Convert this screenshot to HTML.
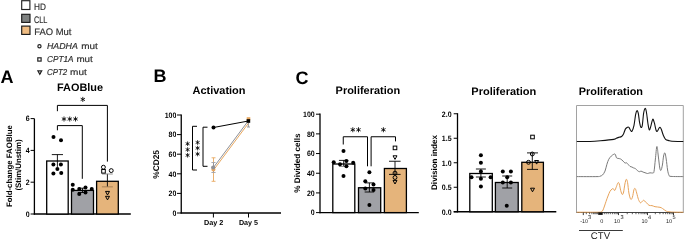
<!DOCTYPE html>
<html><head><meta charset="utf-8"><style>
html,body{margin:0;padding:0;background:#fff;}
body{width:685px;height:240px;overflow:hidden;}
svg{display:block;font-family:"Liberation Sans",sans-serif;text-rendering:geometricPrecision;will-change:transform;}
</style></head><body>
<svg width="685" height="240" viewBox="0 0 685 240">
<rect width="685" height="240" fill="#fff"/>
<rect x="21.7" y="0.7" width="8.2" height="8.8" fill="#fff" stroke="#222" stroke-width="1.15"/>
<rect x="21.7" y="14.3" width="8.3" height="8.1" fill="#7E8180" stroke="#1a1a1a" stroke-width="1.15"/>
<rect x="21.7" y="26.1" width="8.3" height="8.3" fill="#EFBC82" stroke="#1a1a1a" stroke-width="1.15"/>
<text x="34.1" y="9.8" text-anchor="start" fill="#303030" style="font-size:9.5px;font-weight:normal;stroke:#303030;stroke-width:0.18px;" textLength="11.9" lengthAdjust="spacingAndGlyphs" >HD</text>
<text x="34.0" y="22.6" text-anchor="start" fill="#303030" style="font-size:9.5px;font-weight:normal;stroke:#303030;stroke-width:0.18px;" textLength="13.4" lengthAdjust="spacingAndGlyphs" >CLL</text>
<text x="34.25" y="34.6" text-anchor="start" fill="#303030" style="font-size:9.5px;font-weight:normal;stroke:#303030;stroke-width:0.18px;" textLength="37.2" lengthAdjust="spacingAndGlyphs" >FAO Mut</text>
<circle cx="39.45" cy="46.2" r="1.6" fill="none" stroke="#222" stroke-width="1.2"/>
<rect x="37.800000000000004" y="57.800000000000004" width="3.3" height="3.3" fill="none" stroke="#222" stroke-width="1.2"/>
<path d="M37.9,70.89 L41.699999999999996,70.89 L39.8,74.30999999999999 Z" fill="none" stroke="#222" stroke-width="1.2" stroke-linejoin="miter"/>
<text x="47" y="48.8" text-anchor="start" fill="#303030" style="font-size:8.6px;font-weight:normal;stroke:#303030;stroke-width:0.18px;font-style:italic;" textLength="30.8" lengthAdjust="spacingAndGlyphs" >HADHA</text>
<text x="81.2" y="48.8" text-anchor="start" fill="#303030" style="font-size:8.6px;font-weight:normal;stroke:#303030;stroke-width:0.18px;" textLength="16.6" lengthAdjust="spacingAndGlyphs" >mut</text>
<text x="47" y="62.1" text-anchor="start" fill="#303030" style="font-size:8.6px;font-weight:normal;stroke:#303030;stroke-width:0.18px;font-style:italic;" textLength="26.5" lengthAdjust="spacingAndGlyphs" >CPT1A</text>
<text x="76.4" y="62.1" text-anchor="start" fill="#303030" style="font-size:8.6px;font-weight:normal;stroke:#303030;stroke-width:0.18px;" textLength="16.4" lengthAdjust="spacingAndGlyphs" >mut</text>
<text x="47" y="75.1" text-anchor="start" fill="#303030" style="font-size:8.6px;font-weight:normal;stroke:#303030;stroke-width:0.18px;font-style:italic;" textLength="20.2" lengthAdjust="spacingAndGlyphs" >CPT2</text>
<text x="70.1" y="75.1" text-anchor="start" fill="#303030" style="font-size:8.6px;font-weight:normal;stroke:#303030;stroke-width:0.18px;" textLength="16.7" lengthAdjust="spacingAndGlyphs" >mut</text>
<text x="0.6" y="82.7" text-anchor="start" fill="#000" style="font-size:18px;font-weight:bold;" >A</text>
<text x="153.4" y="82" text-anchor="start" fill="#000" style="font-size:18px;font-weight:bold;" >B</text>
<text x="295.6" y="83.9" text-anchor="start" fill="#000" style="font-size:18px;font-weight:bold;" >C</text>
<text x="57" y="91.3" text-anchor="start" fill="#000" style="font-size:10.9px;font-weight:bold;" textLength="46" lengthAdjust="spacingAndGlyphs" >FAOBlue</text>
<text x="192.5" y="94.2" text-anchor="start" fill="#000" style="font-size:10.9px;font-weight:bold;" textLength="53" lengthAdjust="spacingAndGlyphs" >Activation</text>
<text x="335.6" y="93.8" text-anchor="start" fill="#000" style="font-size:10.9px;font-weight:bold;" textLength="64.5" lengthAdjust="spacingAndGlyphs" >Proliferation</text>
<text x="471.3" y="95" text-anchor="start" fill="#000" style="font-size:10.9px;font-weight:bold;" textLength="65" lengthAdjust="spacingAndGlyphs" >Proliferation</text>
<text x="578.8" y="95" text-anchor="start" fill="#000" style="font-size:10.9px;font-weight:bold;" textLength="64.2" lengthAdjust="spacingAndGlyphs" >Proliferation</text>
<line x1="34.4" y1="118.6" x2="34.4" y2="214.6" stroke="#000" stroke-width="1.3"/>
<line x1="33.8" y1="214" x2="130.8" y2="214" stroke="#000" stroke-width="1.3"/>
<line x1="30.6" y1="214.0" x2="34.4" y2="214.0" stroke="#000" stroke-width="1"/>
<text x="29.6" y="216.8" text-anchor="end" fill="#000" style="font-size:7.8px;font-weight:bold;" textLength="3.9" lengthAdjust="spacingAndGlyphs" >0</text>
<line x1="30.6" y1="182.2" x2="34.4" y2="182.2" stroke="#000" stroke-width="1"/>
<text x="29.6" y="185.0" text-anchor="end" fill="#000" style="font-size:7.8px;font-weight:bold;" textLength="3.9" lengthAdjust="spacingAndGlyphs" >2</text>
<line x1="30.6" y1="150.4" x2="34.4" y2="150.4" stroke="#000" stroke-width="1"/>
<text x="29.6" y="153.20000000000002" text-anchor="end" fill="#000" style="font-size:7.8px;font-weight:bold;" textLength="3.9" lengthAdjust="spacingAndGlyphs" >4</text>
<line x1="30.6" y1="118.6" x2="34.4" y2="118.6" stroke="#000" stroke-width="1"/>
<text x="29.6" y="121.39999999999999" text-anchor="end" fill="#000" style="font-size:7.8px;font-weight:bold;" textLength="3.9" lengthAdjust="spacingAndGlyphs" >6</text>
<g transform="translate(12.2,166.1) rotate(-90)">
<text x="0" y="0" text-anchor="middle" fill="#000" style="font-size:7.9px;font-weight:bold;" textLength="82" lengthAdjust="spacingAndGlyphs" >Fold-change FAOBlue</text>
</g>
<g transform="translate(21,165) rotate(-90)">
<text x="0" y="0" text-anchor="middle" fill="#000" style="font-size:7.9px;font-weight:bold;" textLength="51" lengthAdjust="spacingAndGlyphs" >(Stim/Unstim)</text>
</g>
<rect x="46.7" y="161" width="21.5" height="53" fill="#fff" stroke="#000" stroke-width="1.3"/>
<rect x="71.5" y="190.4" width="22.0" height="23.599999999999994" fill="#A0A1A6" stroke="#000" stroke-width="1.3"/>
<rect x="96.6" y="181.3" width="21.700000000000003" height="32.69999999999999" fill="#E5B47B" stroke="#000" stroke-width="1.3"/>
<line x1="57.4" y1="154.6" x2="57.4" y2="166.9" stroke="#000" stroke-width="0.9"/>
<line x1="51.8" y1="154.6" x2="63.0" y2="154.6" stroke="#000" stroke-width="0.9"/>
<line x1="51.8" y1="166.9" x2="63.0" y2="166.9" stroke="none" stroke-width="0.9"/>
<circle cx="53.5" cy="137.1" r="2.0" fill="#000"/>
<circle cx="61" cy="140.3" r="2.0" fill="#000"/>
<circle cx="53.4" cy="164.4" r="2.0" fill="#000"/>
<circle cx="60.9" cy="164.4" r="2.0" fill="#000"/>
<circle cx="57.4" cy="169" r="2.0" fill="#000"/>
<circle cx="53.4" cy="173.4" r="2.0" fill="#000"/>
<circle cx="61.25" cy="173.1" r="2.0" fill="#000"/>
<line x1="82.5" y1="188.2" x2="82.5" y2="192.5" stroke="#000" stroke-width="0.9"/>
<line x1="78.0" y1="188.2" x2="87.0" y2="188.2" stroke="#000" stroke-width="0.9"/>
<line x1="78.0" y1="192.5" x2="87.0" y2="192.5" stroke="#000" stroke-width="0.9"/>
<circle cx="72.75" cy="184.75" r="2.0" fill="#000"/>
<circle cx="72.75" cy="189.75" r="2.0" fill="#000"/>
<circle cx="79.25" cy="189.1" r="2.0" fill="#000"/>
<circle cx="85.5" cy="187.6" r="2.0" fill="#000"/>
<circle cx="91.75" cy="189.1" r="2.0" fill="#000"/>
<circle cx="79.25" cy="194.1" r="2.0" fill="#000"/>
<circle cx="85.5" cy="192.6" r="2.0" fill="#000"/>
<line x1="107.4" y1="173.9" x2="107.4" y2="186.85" stroke="#000" stroke-width="0.9"/>
<line x1="102" y1="174.0" x2="112.8" y2="174.0" stroke="#888" stroke-width="0.9"/>
<line x1="101.9" y1="186.85" x2="112.85" y2="186.85" stroke="#A07C50" stroke-width="0.9"/>
<circle cx="103.4" cy="167.2" r="1.95" fill="none" stroke="#000" stroke-width="1.0"/>
<rect x="101.7" y="169.5" width="3.6" height="3.6" fill="none" stroke="#000" stroke-width="1.0"/>
<circle cx="111.25" cy="170.6" r="1.95" fill="none" stroke="#000" stroke-width="1.0"/>
<path d="M105.5,191.39999999999998 L109.5,191.39999999999998 L107.5,195.0 Z" fill="none" stroke="#000" stroke-width="1.0" stroke-linejoin="miter"/>
<path d="M105.5,196.29999999999998 L109.5,196.29999999999998 L107.5,199.9 Z" fill="none" stroke="#000" stroke-width="1.0" stroke-linejoin="miter"/>
<path d="M57.4,111.2 V105.4 H107.4 V161.6" stroke="#000" stroke-width="1.0" fill="none" />
<path d="M57.4,130.3 V125.6 H82.3 V178.8" stroke="#000" stroke-width="1.0" fill="none" />
<path d="M82.80,96.90L82.80,101.90M80.63,98.15L84.97,100.65M80.63,100.65L84.97,98.15" stroke="#000" stroke-width="0.85" fill="none"/>
<path d="M64.00,116.50L64.00,121.50M61.83,117.75L66.17,120.25M61.83,120.25L66.17,117.75" stroke="#000" stroke-width="0.85" fill="none"/>
<path d="M69.75,116.50L69.75,121.50M67.58,117.75L71.92,120.25M67.58,120.25L71.92,117.75" stroke="#000" stroke-width="0.85" fill="none"/>
<path d="M75.50,116.50L75.50,121.50M73.33,117.75L77.67,120.25M73.33,120.25L77.67,117.75" stroke="#000" stroke-width="0.85" fill="none"/>
<line x1="181.25" y1="114.5" x2="181.25" y2="213.6" stroke="#000" stroke-width="1.3"/>
<line x1="180.6" y1="213" x2="281" y2="213" stroke="#000" stroke-width="1.3"/>
<line x1="177" y1="213.0" x2="181.25" y2="213.0" stroke="#000" stroke-width="1"/>
<text x="176.4" y="215.8" text-anchor="end" fill="#000" style="font-size:7.8px;font-weight:bold;" textLength="3.9" lengthAdjust="spacingAndGlyphs" >0</text>
<line x1="177" y1="193.4" x2="181.25" y2="193.4" stroke="#000" stroke-width="1"/>
<text x="176.4" y="196.20000000000002" text-anchor="end" fill="#000" style="font-size:7.8px;font-weight:bold;" textLength="7.8" lengthAdjust="spacingAndGlyphs" >20</text>
<line x1="177" y1="173.8" x2="181.25" y2="173.8" stroke="#000" stroke-width="1"/>
<text x="176.4" y="176.60000000000002" text-anchor="end" fill="#000" style="font-size:7.8px;font-weight:bold;" textLength="7.8" lengthAdjust="spacingAndGlyphs" >40</text>
<line x1="177" y1="154.2" x2="181.25" y2="154.2" stroke="#000" stroke-width="1"/>
<text x="176.4" y="157.0" text-anchor="end" fill="#000" style="font-size:7.8px;font-weight:bold;" textLength="7.8" lengthAdjust="spacingAndGlyphs" >60</text>
<line x1="177" y1="134.6" x2="181.25" y2="134.6" stroke="#000" stroke-width="1"/>
<text x="176.4" y="137.4" text-anchor="end" fill="#000" style="font-size:7.8px;font-weight:bold;" textLength="7.8" lengthAdjust="spacingAndGlyphs" >80</text>
<line x1="177" y1="115.0" x2="181.25" y2="115.0" stroke="#000" stroke-width="1"/>
<text x="176.4" y="117.8" text-anchor="end" fill="#000" style="font-size:7.8px;font-weight:bold;" textLength="11.7" lengthAdjust="spacingAndGlyphs" >100</text>
<line x1="213.4" y1="213" x2="213.4" y2="217.5" stroke="#000" stroke-width="1"/>
<line x1="248.5" y1="213" x2="248.5" y2="217.5" stroke="#000" stroke-width="1"/>
<text x="213.7" y="225.3" text-anchor="middle" fill="#000" style="font-size:7.3px;font-weight:bold;" textLength="19.4" lengthAdjust="spacingAndGlyphs" >Day 2</text>
<text x="248.5" y="225.3" text-anchor="middle" fill="#000" style="font-size:7.3px;font-weight:bold;" textLength="19.1" lengthAdjust="spacingAndGlyphs" >Day 5</text>
<g transform="translate(159.3,164.4) rotate(-90)">
<text x="0" y="0" text-anchor="middle" fill="#000" style="font-size:8.3px;font-weight:bold;" textLength="28.7" lengthAdjust="spacingAndGlyphs" >%CD25</text>
</g>
<path d="M197,126.3 H192.5 V170 H197" stroke="#000" stroke-width="1.0" fill="none" />
<path d="M207.5,127.2 H203 V166.3 H207.5" stroke="#000" stroke-width="1.0" fill="none" />
<path d="M187.60,141.45L187.60,146.05M185.61,142.60L189.59,144.90M185.61,144.90L189.59,142.60" stroke="#000" stroke-width="0.8" fill="none"/>
<path d="M187.60,147.30L187.60,151.90M185.61,148.45L189.59,150.75M185.61,150.75L189.59,148.45" stroke="#000" stroke-width="0.8" fill="none"/>
<path d="M187.60,152.95L187.60,157.55M185.61,154.10L189.59,156.40M185.61,156.40L189.59,154.10" stroke="#000" stroke-width="0.8" fill="none"/>
<path d="M197.60,140.20L197.60,144.80M195.61,141.35L199.59,143.65M195.61,143.65L199.59,141.35" stroke="#000" stroke-width="0.8" fill="none"/>
<path d="M197.60,145.80L197.60,150.40M195.61,146.95L199.59,149.25M195.61,149.25L199.59,146.95" stroke="#000" stroke-width="0.8" fill="none"/>
<path d="M197.60,151.70L197.60,156.30M195.61,152.85L199.59,155.15M195.61,155.15L199.59,152.85" stroke="#000" stroke-width="0.8" fill="none"/>
<line x1="213.5" y1="157.8" x2="213.5" y2="181.3" stroke="#E8A860" stroke-width="0.9"/>
<line x1="211.6" y1="157.8" x2="215.5" y2="157.8" stroke="#E8A860" stroke-width="0.9"/>
<line x1="211.6" y1="181.3" x2="215.5" y2="181.3" stroke="#E8A860" stroke-width="0.9"/>
<line x1="214.6" y1="168.6" x2="249.2" y2="122.2" stroke="#E8A860" stroke-width="1.0"/>
<line x1="213.5" y1="162.5" x2="213.5" y2="172.5" stroke="#8E9097" stroke-width="0.9"/>
<line x1="211.4" y1="162.5" x2="215.6" y2="162.5" stroke="#A0A2A8" stroke-width="0.9"/>
<line x1="211.4" y1="172.5" x2="215.6" y2="172.5" stroke="#A0A2A8" stroke-width="0.9"/>
<line x1="213.4" y1="167.6" x2="248.0" y2="121.2" stroke="#8E9097" stroke-width="1.0"/>
<line x1="248.4" y1="121" x2="248.4" y2="127" stroke="#8E9097" stroke-width="0.9"/>
<line x1="247" y1="127" x2="250" y2="127" stroke="#8E9097" stroke-width="0.9"/>
<circle cx="213.4" cy="169.6" r="2.0" fill="#E8A860"/>
<circle cx="213.2" cy="167.5" r="2.1" fill="#8E9097"/>
<rect x="246.7" y="117.2" width="3.6" height="3" fill="#E8A860"/>
<line x1="213.5" y1="127.5" x2="248.4" y2="121" stroke="#000" stroke-width="1.0"/>
<circle cx="213.5" cy="127.5" r="2.0" fill="#000"/>
<rect x="246.6" y="119.2" width="3.6" height="3.6" fill="#000"/>
<line x1="320" y1="113.6" x2="320" y2="213.2" stroke="#000" stroke-width="1.3"/>
<line x1="319.4" y1="212.6" x2="418.8" y2="212.6" stroke="#000" stroke-width="1.3"/>
<line x1="316" y1="212.6" x2="320" y2="212.6" stroke="#000" stroke-width="1"/>
<text x="314.7" y="215.4" text-anchor="end" fill="#000" style="font-size:7.8px;font-weight:bold;" textLength="3.9" lengthAdjust="spacingAndGlyphs" >0</text>
<line x1="316" y1="192.92" x2="320" y2="192.92" stroke="#000" stroke-width="1"/>
<text x="314.7" y="195.72" text-anchor="end" fill="#000" style="font-size:7.8px;font-weight:bold;" textLength="7.8" lengthAdjust="spacingAndGlyphs" >20</text>
<line x1="316" y1="173.24" x2="320" y2="173.24" stroke="#000" stroke-width="1"/>
<text x="314.7" y="176.04000000000002" text-anchor="end" fill="#000" style="font-size:7.8px;font-weight:bold;" textLength="7.8" lengthAdjust="spacingAndGlyphs" >40</text>
<line x1="316" y1="153.56" x2="320" y2="153.56" stroke="#000" stroke-width="1"/>
<text x="314.7" y="156.36" text-anchor="end" fill="#000" style="font-size:7.8px;font-weight:bold;" textLength="7.8" lengthAdjust="spacingAndGlyphs" >60</text>
<line x1="316" y1="133.88" x2="320" y2="133.88" stroke="#000" stroke-width="1"/>
<text x="314.7" y="136.68" text-anchor="end" fill="#000" style="font-size:7.8px;font-weight:bold;" textLength="7.8" lengthAdjust="spacingAndGlyphs" >80</text>
<line x1="316" y1="114.19999999999999" x2="320" y2="114.19999999999999" stroke="#000" stroke-width="1"/>
<text x="314.7" y="116.99999999999999" text-anchor="end" fill="#000" style="font-size:7.8px;font-weight:bold;" textLength="11.7" lengthAdjust="spacingAndGlyphs" >100</text>
<g transform="translate(299.6,163) rotate(-90)">
<text x="0" y="0" text-anchor="middle" fill="#000" style="font-size:8.1px;font-weight:bold;" textLength="59.3" lengthAdjust="spacingAndGlyphs" >% Divided cells</text>
</g>
<rect x="332.8" y="164" width="22.0" height="48.599999999999994" fill="#fff" stroke="#000" stroke-width="1.3"/>
<rect x="358.5" y="187.75" width="22.19999999999999" height="24.849999999999994" fill="#A0A1A6" stroke="#000" stroke-width="1.3"/>
<rect x="384.4" y="168.5" width="22.0" height="44.099999999999994" fill="#E5B47B" stroke="#000" stroke-width="1.3"/>
<line x1="343.7" y1="160.4" x2="343.7" y2="166.4" stroke="#000" stroke-width="0.9"/>
<line x1="338.95" y1="160.4" x2="348.45" y2="160.4" stroke="#000" stroke-width="0.9"/>
<line x1="338.95" y1="166.4" x2="348.45" y2="166.4" stroke="#777" stroke-width="0.9"/>
<circle cx="343.5" cy="150.9" r="2.0" fill="#000"/>
<circle cx="333.7" cy="162.3" r="2.0" fill="#000"/>
<circle cx="340" cy="164.3" r="2.0" fill="#000"/>
<circle cx="346.4" cy="161.0" r="2.0" fill="#000"/>
<circle cx="346.4" cy="166.2" r="2.0" fill="#000"/>
<circle cx="353.2" cy="162.8" r="2.0" fill="#000"/>
<circle cx="343.5" cy="176" r="2.0" fill="#000"/>
<line x1="369.4" y1="182.9" x2="369.4" y2="192" stroke="#000" stroke-width="0.9"/>
<line x1="364.65" y1="182.9" x2="374.15" y2="182.9" stroke="#000" stroke-width="0.9"/>
<line x1="364.65" y1="192" x2="374.15" y2="192" stroke="#000" stroke-width="0.9"/>
<circle cx="369.4" cy="172.3" r="2.0" fill="#000"/>
<circle cx="365.3" cy="181.3" r="2.0" fill="#000"/>
<circle cx="373.5" cy="184.4" r="2.0" fill="#000"/>
<circle cx="365.3" cy="188.5" r="2.0" fill="#000"/>
<circle cx="373.5" cy="190" r="2.0" fill="#000"/>
<circle cx="369.4" cy="205" r="2.0" fill="#000"/>
<line x1="395" y1="161.25" x2="395" y2="174.4" stroke="#000" stroke-width="0.9"/>
<line x1="389" y1="161.25" x2="400.6" y2="161.25" stroke="#000" stroke-width="0.9"/>
<line x1="389" y1="174.4" x2="400.6" y2="174.4" stroke="#000" stroke-width="0.9"/>
<rect x="393.2" y="146.1" width="3.6" height="3.6" fill="none" stroke="#000" stroke-width="1.0"/>
<path d="M393.0,155.79999999999998 L397.0,155.79999999999998 L395,159.4 Z" fill="none" stroke="#000" stroke-width="1.0" stroke-linejoin="miter"/>
<circle cx="395" cy="173.1" r="1.95" fill="none" stroke="#000" stroke-width="1.0"/>
<circle cx="395" cy="177.5" r="1.95" fill="none" stroke="#000" stroke-width="1.0"/>
<path d="M393.0,180.39999999999998 L397.0,180.39999999999998 L395,184.0 Z" fill="none" stroke="#000" stroke-width="1.0" stroke-linejoin="miter"/>
<path d="M343.25,144.5 V136.75 H367.5 V166.3" stroke="#000" stroke-width="1.0" fill="none" />
<path d="M371.1,166.3 V136.75 H395.5 V141.4" stroke="#000" stroke-width="1.0" fill="none" />
<path d="M352.80,127.25L352.80,132.25M350.63,128.50L354.97,131.00M350.63,131.00L354.97,128.50" stroke="#000" stroke-width="0.85" fill="none"/>
<path d="M358.50,127.25L358.50,132.25M356.33,128.50L360.67,131.00M356.33,131.00L360.67,128.50" stroke="#000" stroke-width="0.85" fill="none"/>
<path d="M383.40,127.25L383.40,132.25M381.23,128.50L385.57,131.00M381.23,131.00L385.57,128.50" stroke="#000" stroke-width="0.85" fill="none"/>
<line x1="457.5" y1="113.2" x2="457.5" y2="212.4" stroke="#000" stroke-width="1.3"/>
<line x1="453.7" y1="211.75" x2="556.3" y2="211.75" stroke="#000" stroke-width="1.3"/>
<line x1="453.7" y1="211.75" x2="457.5" y2="211.75" stroke="#000" stroke-width="1"/>
<text x="451.6" y="214.55" text-anchor="end" fill="#000" style="font-size:7.8px;font-weight:bold;" textLength="9.75" lengthAdjust="spacingAndGlyphs" >0.0</text>
<line x1="453.7" y1="187.25" x2="457.5" y2="187.25" stroke="#000" stroke-width="1"/>
<text x="451.6" y="190.05" text-anchor="end" fill="#000" style="font-size:7.8px;font-weight:bold;" textLength="9.75" lengthAdjust="spacingAndGlyphs" >0.5</text>
<line x1="453.7" y1="162.75" x2="457.5" y2="162.75" stroke="#000" stroke-width="1"/>
<text x="451.6" y="165.55" text-anchor="end" fill="#000" style="font-size:7.8px;font-weight:bold;" textLength="9.75" lengthAdjust="spacingAndGlyphs" >1.0</text>
<line x1="453.7" y1="138.25" x2="457.5" y2="138.25" stroke="#000" stroke-width="1"/>
<text x="451.6" y="141.05" text-anchor="end" fill="#000" style="font-size:7.8px;font-weight:bold;" textLength="9.75" lengthAdjust="spacingAndGlyphs" >1.5</text>
<line x1="453.7" y1="113.75" x2="457.5" y2="113.75" stroke="#000" stroke-width="1"/>
<text x="451.6" y="116.55" text-anchor="end" fill="#000" style="font-size:7.8px;font-weight:bold;" textLength="9.75" lengthAdjust="spacingAndGlyphs" >2.0</text>
<g transform="translate(437.3,162.5) rotate(-90)">
<text x="0" y="0" text-anchor="middle" fill="#000" style="font-size:8.1px;font-weight:bold;" textLength="55" lengthAdjust="spacingAndGlyphs" >Division index</text>
</g>
<rect x="469.8" y="173.5" width="22.5" height="38.25" fill="#fff" stroke="#000" stroke-width="1.3"/>
<rect x="495.4" y="182.5" width="22.800000000000068" height="29.25" fill="#A0A1A6" stroke="#000" stroke-width="1.3"/>
<rect x="521.8" y="162.3" width="21.600000000000023" height="49.44999999999999" fill="#E5B47B" stroke="#000" stroke-width="1.3"/>
<line x1="480.9" y1="169" x2="480.9" y2="177" stroke="#000" stroke-width="0.9"/>
<line x1="475.9" y1="169" x2="485.9" y2="169" stroke="#000" stroke-width="0.9"/>
<line x1="475.9" y1="177" x2="485.9" y2="177" stroke="#000" stroke-width="0.9"/>
<circle cx="480.9" cy="155.3" r="2.0" fill="#000"/>
<circle cx="480.9" cy="162.8" r="2.0" fill="#000"/>
<circle cx="480.9" cy="171.6" r="2.0" fill="#000"/>
<circle cx="471.5" cy="177.3" r="2.0" fill="#000"/>
<circle cx="480.9" cy="178.8" r="2.0" fill="#000"/>
<circle cx="490.6" cy="177.3" r="2.0" fill="#000"/>
<circle cx="480.9" cy="186.6" r="2.0" fill="#000"/>
<line x1="507.2" y1="176" x2="507.2" y2="188" stroke="#000" stroke-width="0.9"/>
<line x1="502.2" y1="176" x2="512.2" y2="176" stroke="#000" stroke-width="0.9"/>
<line x1="502.2" y1="188" x2="512.2" y2="188" stroke="#000" stroke-width="0.9"/>
<circle cx="502.8" cy="171.6" r="2.0" fill="#000"/>
<circle cx="510.9" cy="171.6" r="2.0" fill="#000"/>
<circle cx="507.2" cy="177.3" r="2.0" fill="#000"/>
<circle cx="502.8" cy="182.5" r="2.0" fill="#000"/>
<circle cx="510.9" cy="182.5" r="2.0" fill="#000"/>
<circle cx="506.75" cy="205.75" r="2.0" fill="#000"/>
<line x1="532.3" y1="152.9" x2="532.3" y2="169.4" stroke="#000" stroke-width="0.9"/>
<line x1="527" y1="152.9" x2="538" y2="152.9" stroke="#000" stroke-width="0.9"/>
<line x1="527" y1="169.4" x2="538" y2="169.4" stroke="#000" stroke-width="0.9"/>
<rect x="530.7" y="135.2" width="3.6" height="3.6" fill="none" stroke="#000" stroke-width="1.0"/>
<circle cx="532.3" cy="154" r="1.95" fill="none" stroke="#000" stroke-width="1.0"/>
<circle cx="528.5" cy="162.3" r="1.95" fill="none" stroke="#000" stroke-width="1.0"/>
<path d="M534.6,160.5 L538.6,160.5 L536.6,164.10000000000002 Z" fill="none" stroke="#000" stroke-width="1.0" stroke-linejoin="miter"/>
<path d="M530.5,188.2 L534.5,188.2 L532.5,191.8 Z" fill="none" stroke="#000" stroke-width="1.0" stroke-linejoin="miter"/>
<path d="M576.5,212.5 V105.5 H683.3 V212.5" fill="none" stroke="#A2A2A2" stroke-width="1.0"/>
<line x1="576.5" y1="212.5" x2="683.3" y2="212.5" stroke="#444" stroke-width="1.0"/>
<path d="M576.8,141.5 C579.00,141.50 586.05,141.62 590.00,141.50 C593.95,141.38 596.55,141.15 600.50,140.80 C604.45,140.45 611.07,139.83 613.70,139.40 C616.33,138.97 615.43,138.55 616.30,138.20 C617.17,137.85 618.03,137.58 618.90,137.30 C619.77,137.02 620.73,137.07 621.50,136.50 C622.27,135.93 622.83,135.17 623.50,133.90 C624.17,132.63 624.82,130.02 625.50,128.90 C626.18,127.78 627.03,127.45 627.60,127.20 C628.17,126.95 628.38,126.85 628.90,127.40 C629.42,127.95 630.18,129.87 630.70,130.50 C631.22,131.13 631.45,132.07 632.00,131.20 C632.55,130.33 633.40,128.05 634.00,125.30 C634.60,122.55 635.12,117.13 635.60,114.70 C636.08,112.27 636.45,110.93 636.90,110.70 C637.35,110.47 637.85,111.30 638.30,113.30 C638.75,115.30 639.17,120.37 639.60,122.70 C640.03,125.03 640.45,126.87 640.90,127.30 C641.35,127.73 641.85,127.63 642.30,125.30 C642.75,122.97 643.13,116.12 643.60,113.30 C644.07,110.48 644.63,108.62 645.10,108.40 C645.57,108.18 645.92,109.40 646.40,112.00 C646.88,114.60 647.52,121.03 648.00,124.00 C648.48,126.97 648.85,129.35 649.30,129.80 C649.75,130.25 650.13,128.45 650.70,126.70 C651.27,124.95 652.10,119.97 652.70,119.30 C653.30,118.63 653.75,120.92 654.30,122.70 C654.85,124.48 655.50,128.57 656.00,130.00 C656.50,131.43 656.85,131.52 657.30,131.30 C657.75,131.08 658.25,129.37 658.70,128.70 C659.15,128.03 659.57,127.20 660.00,127.30 C660.43,127.40 660.73,127.93 661.30,129.30 C661.87,130.67 662.68,133.83 663.40,135.50 C664.12,137.17 664.70,138.45 665.60,139.30 C666.50,140.15 667.73,140.28 668.80,140.60 C669.87,140.92 669.58,141.05 672.00,141.20 C674.42,141.35 681.42,141.45 683.30,141.50" stroke="#111" stroke-width="1.1" fill="none" />
<path d="M576.8,176.6 C580.17,176.60 593.13,176.67 597.00,176.60 C600.87,176.53 599.08,176.47 600.00,176.20 C600.92,175.93 601.67,175.85 602.50,175.00 C603.33,174.15 604.27,172.88 605.00,171.10 C605.73,169.32 606.27,166.27 606.90,164.30 C607.52,162.33 608.02,160.67 608.75,159.30 C609.48,157.93 610.42,156.93 611.25,156.10 C612.08,155.27 613.08,154.60 613.75,154.30 C614.42,154.00 614.79,153.72 615.25,154.30 C615.71,154.88 616.02,157.12 616.50,157.80 C616.98,158.48 617.42,158.20 618.10,158.40 C618.78,158.60 619.77,158.55 620.60,159.00 C621.43,159.45 622.37,160.42 623.10,161.10 C623.83,161.78 624.43,162.82 625.00,163.10 C625.57,163.38 625.98,162.60 626.50,162.80 C627.02,163.00 627.52,163.70 628.10,164.30 C628.68,164.90 629.37,165.95 630.00,166.40 C630.63,166.85 631.27,166.73 631.90,167.00 C632.52,167.27 633.13,167.72 633.75,168.00 C634.37,168.28 634.98,168.25 635.60,168.70 C636.23,169.15 636.87,170.20 637.50,170.70 C638.13,171.20 638.82,171.63 639.40,171.70 C639.98,171.77 640.38,171.03 641.00,171.10 C641.62,171.17 642.43,171.83 643.10,172.10 C643.77,172.37 644.27,172.47 645.00,172.70 C645.73,172.93 646.67,173.48 647.50,173.50 C648.33,173.52 649.17,172.88 650.00,172.80 C650.83,172.72 651.83,173.22 652.50,173.00 C653.17,172.78 653.52,173.83 654.00,171.50 C654.48,169.17 654.92,163.17 655.40,159.00 C655.88,154.83 656.40,146.83 656.90,146.50 C657.40,146.17 657.92,153.42 658.40,157.00 C658.88,160.58 659.37,165.78 659.80,168.00 C660.23,170.22 660.57,170.80 661.00,170.30 C661.43,169.80 661.97,167.38 662.40,165.00 C662.83,162.62 663.18,158.02 663.60,156.00 C664.02,153.98 664.47,152.40 664.90,152.90 C665.33,153.40 665.75,156.15 666.20,159.00 C666.65,161.85 667.13,167.30 667.60,170.00 C668.07,172.70 668.43,174.13 669.00,175.20 C669.57,176.27 668.62,176.17 671.00,176.40 C673.38,176.63 681.25,176.57 683.30,176.60" stroke="#7A7A7A" stroke-width="1.0" fill="none" />
<path d="M576.8,212.2 C580.67,212.20 595.88,212.25 600.00,212.20 C604.12,212.15 601.00,212.27 601.50,211.90 C602.00,211.53 602.50,210.98 603.00,210.00 C603.50,209.02 604.00,207.42 604.50,206.00 C605.00,204.58 605.42,203.17 606.00,201.50 C606.58,199.83 607.33,197.70 608.00,196.00 C608.67,194.30 609.33,192.45 610.00,191.30 C610.67,190.15 611.45,189.53 612.00,189.10 C612.55,188.67 612.85,188.47 613.30,188.70 C613.75,188.93 614.18,190.83 614.70,190.50 C615.22,190.17 615.85,188.00 616.40,186.70 C616.95,185.40 617.52,183.15 618.00,182.70 C618.48,182.25 618.85,182.70 619.30,184.00 C619.75,185.30 620.20,188.75 620.70,190.50 C621.20,192.25 621.82,194.25 622.30,194.50 C622.78,194.75 623.17,193.75 623.60,192.00 C624.03,190.25 624.45,186.12 624.90,184.00 C625.35,181.88 625.85,179.52 626.30,179.30 C626.75,179.08 627.17,180.42 627.60,182.70 C628.03,184.98 628.38,190.25 628.90,193.00 C629.42,195.75 630.12,198.48 630.70,199.20 C631.28,199.92 631.85,198.92 632.40,197.30 C632.95,195.68 633.52,190.93 634.00,189.50 C634.48,188.07 634.85,188.12 635.30,188.70 C635.75,189.28 636.17,191.20 636.70,193.00 C637.23,194.80 637.87,197.87 638.50,199.50 C639.13,201.13 639.83,202.55 640.50,202.80 C641.17,203.05 641.95,201.42 642.50,201.00 C643.05,200.58 643.22,200.08 643.80,200.30 C644.38,200.52 645.13,201.47 646.00,202.30 C646.87,203.13 648.00,204.75 649.00,205.30 C650.00,205.85 651.00,205.37 652.00,205.60 C653.00,205.83 653.67,206.42 655.00,206.70 C656.33,206.98 658.75,207.00 660.00,207.30 C661.25,207.60 661.50,207.88 662.50,208.50 C663.50,209.12 665.08,210.48 666.00,211.00 C666.92,211.52 666.83,211.42 668.00,211.60 C669.17,211.78 670.45,212.00 673.00,212.10 C675.55,212.20 681.58,212.18 683.30,212.20" stroke="#E8A35A" stroke-width="1.0" fill="none" />
<line x1="583.3" y1="212.5" x2="583.3" y2="215.1" stroke="#222" stroke-width="0.9"/>
<line x1="618.5" y1="212.5" x2="618.5" y2="215.1" stroke="#222" stroke-width="0.9"/>
<line x1="647.5" y1="212.5" x2="647.5" y2="215.1" stroke="#222" stroke-width="0.9"/>
<line x1="673.5" y1="212.5" x2="673.5" y2="215.1" stroke="#222" stroke-width="0.9"/>
<line x1="586.3" y1="212.5" x2="586.3" y2="214.2" stroke="#333" stroke-width="0.8"/>
<line x1="589.6" y1="212.5" x2="589.6" y2="214.2" stroke="#333" stroke-width="0.8"/>
<line x1="591.9" y1="212.5" x2="591.9" y2="214.2" stroke="#333" stroke-width="0.8"/>
<line x1="593.6" y1="212.5" x2="593.6" y2="214.2" stroke="#333" stroke-width="0.8"/>
<line x1="594.8" y1="212.5" x2="594.8" y2="214.2" stroke="#333" stroke-width="0.8"/>
<line x1="595.9" y1="212.5" x2="595.9" y2="214.2" stroke="#333" stroke-width="0.8"/>
<line x1="596.9" y1="212.5" x2="596.9" y2="214.2" stroke="#333" stroke-width="0.8"/>
<line x1="597.7" y1="212.5" x2="597.7" y2="214.2" stroke="#333" stroke-width="0.8"/>
<line x1="604.3" y1="212.5" x2="604.3" y2="214.2" stroke="#333" stroke-width="0.8"/>
<line x1="606.2" y1="212.5" x2="606.2" y2="214.2" stroke="#333" stroke-width="0.8"/>
<line x1="608.2" y1="212.5" x2="608.2" y2="214.2" stroke="#333" stroke-width="0.8"/>
<line x1="610.3" y1="212.5" x2="610.3" y2="214.2" stroke="#333" stroke-width="0.8"/>
<line x1="612.4" y1="212.5" x2="612.4" y2="214.2" stroke="#333" stroke-width="0.8"/>
<line x1="614.3" y1="212.5" x2="614.3" y2="214.2" stroke="#333" stroke-width="0.8"/>
<line x1="616" y1="212.5" x2="616" y2="214.2" stroke="#333" stroke-width="0.8"/>
<line x1="617.3" y1="212.5" x2="617.3" y2="214.2" stroke="#333" stroke-width="0.8"/>
<line x1="627.2298698742554" y1="212.5" x2="627.2298698742554" y2="214.2" stroke="#333" stroke-width="0.8"/>
<line x1="655.3267798872635" y1="212.5" x2="655.3267798872635" y2="214.2" stroke="#333" stroke-width="0.8"/>
<line x1="632.3365163868702" y1="212.5" x2="632.3365163868702" y2="214.2" stroke="#333" stroke-width="0.8"/>
<line x1="659.9051526227112" y1="212.5" x2="659.9051526227112" y2="214.2" stroke="#333" stroke-width="0.8"/>
<line x1="635.9597397485109" y1="212.5" x2="635.9597397485109" y2="214.2" stroke="#333" stroke-width="0.8"/>
<line x1="663.153559774527" y1="212.5" x2="663.153559774527" y2="214.2" stroke="#333" stroke-width="0.8"/>
<line x1="638.7701301257446" y1="212.5" x2="638.7701301257446" y2="214.2" stroke="#333" stroke-width="0.8"/>
<line x1="665.6732201127365" y1="212.5" x2="665.6732201127365" y2="214.2" stroke="#333" stroke-width="0.8"/>
<line x1="641.0663862611257" y1="212.5" x2="641.0663862611257" y2="214.2" stroke="#333" stroke-width="0.8"/>
<line x1="667.7319325099747" y1="212.5" x2="667.7319325099747" y2="214.2" stroke="#333" stroke-width="0.8"/>
<line x1="643.0078431604135" y1="212.5" x2="643.0078431604135" y2="214.2" stroke="#333" stroke-width="0.8"/>
<line x1="669.4725490403707" y1="212.5" x2="669.4725490403707" y2="214.2" stroke="#333" stroke-width="0.8"/>
<line x1="644.6896096227664" y1="212.5" x2="644.6896096227664" y2="214.2" stroke="#333" stroke-width="0.8"/>
<line x1="670.9803396617905" y1="212.5" x2="670.9803396617905" y2="214.2" stroke="#333" stroke-width="0.8"/>
<line x1="646.1730327737404" y1="212.5" x2="646.1730327737404" y2="214.2" stroke="#333" stroke-width="0.8"/>
<line x1="672.3103052454225" y1="212.5" x2="672.3103052454225" y2="214.2" stroke="#333" stroke-width="0.8"/>
<rect x="598.2" y="212.3" width="4.5" height="2.6" fill="#111"/>
<text x="587.9" y="223.0" text-anchor="end" fill="#222" style="font-size:5.5px;font-weight:normal;" textLength="7.6" lengthAdjust="spacingAndGlyphs" >-10</text>
<text x="588.1" y="219.2" text-anchor="start" fill="#222" style="font-size:5.6px;font-weight:normal;" >3</text>
<text x="601.8" y="223.0" text-anchor="middle" fill="#222" style="font-size:5.5px;font-weight:normal;" >0</text>
<text x="620.1" y="223.0" text-anchor="end" fill="#222" style="font-size:5.5px;font-weight:normal;" >10</text>
<text x="620.4" y="219.2" text-anchor="start" fill="#222" style="font-size:5.6px;font-weight:normal;" >3</text>
<text x="647.6" y="223.0" text-anchor="end" fill="#222" style="font-size:5.5px;font-weight:normal;" >10</text>
<text x="647.9" y="219.2" text-anchor="start" fill="#222" style="font-size:5.6px;font-weight:normal;" >4</text>
<text x="672.1" y="223.0" text-anchor="end" fill="#222" style="font-size:5.5px;font-weight:normal;" >10</text>
<text x="672.4" y="219.2" text-anchor="start" fill="#222" style="font-size:5.6px;font-weight:normal;" >5</text>
<line x1="579" y1="230.5" x2="622.8" y2="230.5" stroke="#222" stroke-width="0.9"/>
<text x="600.5" y="238.9" text-anchor="middle" fill="#222" style="font-size:9.7px;font-weight:normal;" textLength="19.3" lengthAdjust="spacingAndGlyphs" >CTV</text>
</svg>
</body></html>
